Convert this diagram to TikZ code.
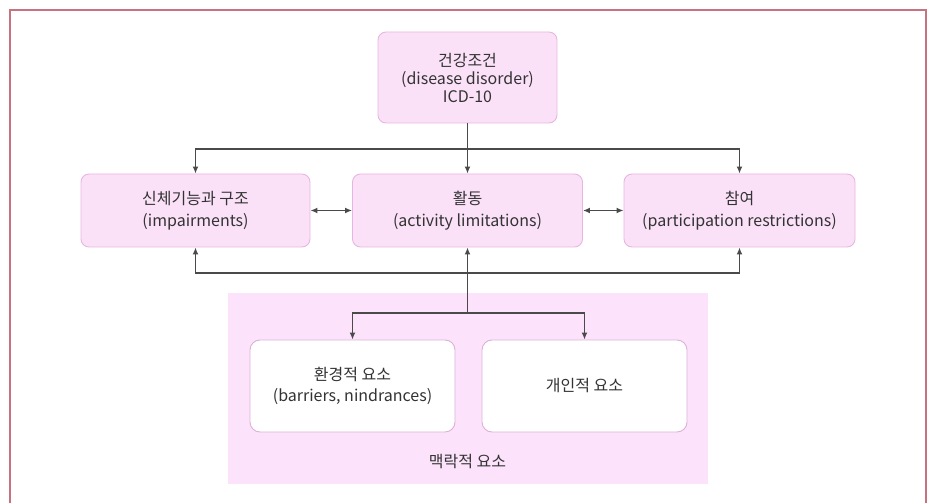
\documentclass[tikz,border=0pt]{standalone}
\usepackage{fontspec}
\setmainfont{Noto Sans CJK KR}
\usepackage{tikz}
\usetikzlibrary{arrows.meta}
\usepackage{xcolor}
\definecolor{framered}{HTML}{C8717F}
\definecolor{boxpink}{HTML}{FBE1F8}
\definecolor{boxline}{HTML}{E6B6E1}
\definecolor{areapink}{HTML}{FCE3FB}
\definecolor{linegray}{HTML}{4A4A4A}
\definecolor{textgray}{HTML}{333333}

\begin{document}
\begin{tikzpicture}[
    x=1pt, y=1pt,
    box/.style={draw=boxline, fill=boxpink, rounded corners=8pt, line width=0.9pt,
                align=center, text=textgray, inner sep=0pt},
    whitebox/.style={box, fill=white, draw=boxline!90!gray, rounded corners=10pt},
    arr/.style={draw=linegray, line width=1.5pt, -{Latex[length=7pt,width=6pt]}},
    darr/.style={draw=linegray, line width=1.5pt, {Latex[length=7pt,width=6pt]}-{Latex[length=7pt,width=6pt]}},
    font=\fontsize{16}{22}\selectfont
]
  \useasboundingbox (0,0) rectangle (928,503);

  % --- FRAME ---
  \draw[framered, line width=2.4pt] (10,0) -- (10,493) -- (926,493) -- (926,0);

  % --- CONTEXT AREA ---
  \node[fill=areapink, minimum width=480pt, minimum height=191pt, inner sep=0pt] (context) at (467.5,114.5) {};
  \node[text=textgray] (ctxlabel) at (467.5,41) {맥락적 요소};

  % --- TOP ROW ---
  \node[box, minimum width=179pt, minimum height=91pt] (health) at (467.5,425.5)
    {건강조건\\[-4pt](disease disorder)\\[-4pt]ICD-10};

  % --- MIDDLE ROW ---
  \node[box, minimum width=229pt, minimum height=73pt] (body) at (195.5,292.5)
    {신체기능과 구조\\(impairments)};
  \node[box, minimum width=230pt, minimum height=73pt] (activity) at (467.5,292.5)
    {활동\\(activity limitations)};
  \node[box, minimum width=231pt, minimum height=73pt] (particip) at (739.5,292.5)
    {참여\\(participation restrictions)};

  % --- BOTTOM ROW ---
  \node[whitebox, minimum width=205pt, minimum height=92pt] (env) at (352.5,117)
    {환경적 요소\\[-1pt](barriers, nindrances)};
  \node[whitebox, minimum width=205pt, minimum height=92pt] (personal) at (584.5,117)
    {개인적 요소};

  % --- JUNCTIONS ---
  \coordinate (topbus) at (467.5,354);
  \coordinate (lowbus) at (467.5,230);
  \coordinate (ctxtop) at (467.5,190);

  % --- DRAWING EDGES ---
  \draw[arr] (health.south) -- (activity.north);
  \draw[arr] (topbus) -| (body.north);
  \draw[arr] (topbus) -| (particip.north);

  \draw[darr] (body.east) -- (activity.west);
  \draw[darr] (activity.east) -- (particip.west);

  \draw[arr] (lowbus) -| (body.south);
  \draw[arr] (lowbus) -| (particip.south);
  \draw[arr] (ctxtop) -- (activity.south);

  \draw[arr] (ctxtop) -| (env.north);
  \draw[arr] (ctxtop) -| (personal.north);
\end{tikzpicture}
\end{document}
